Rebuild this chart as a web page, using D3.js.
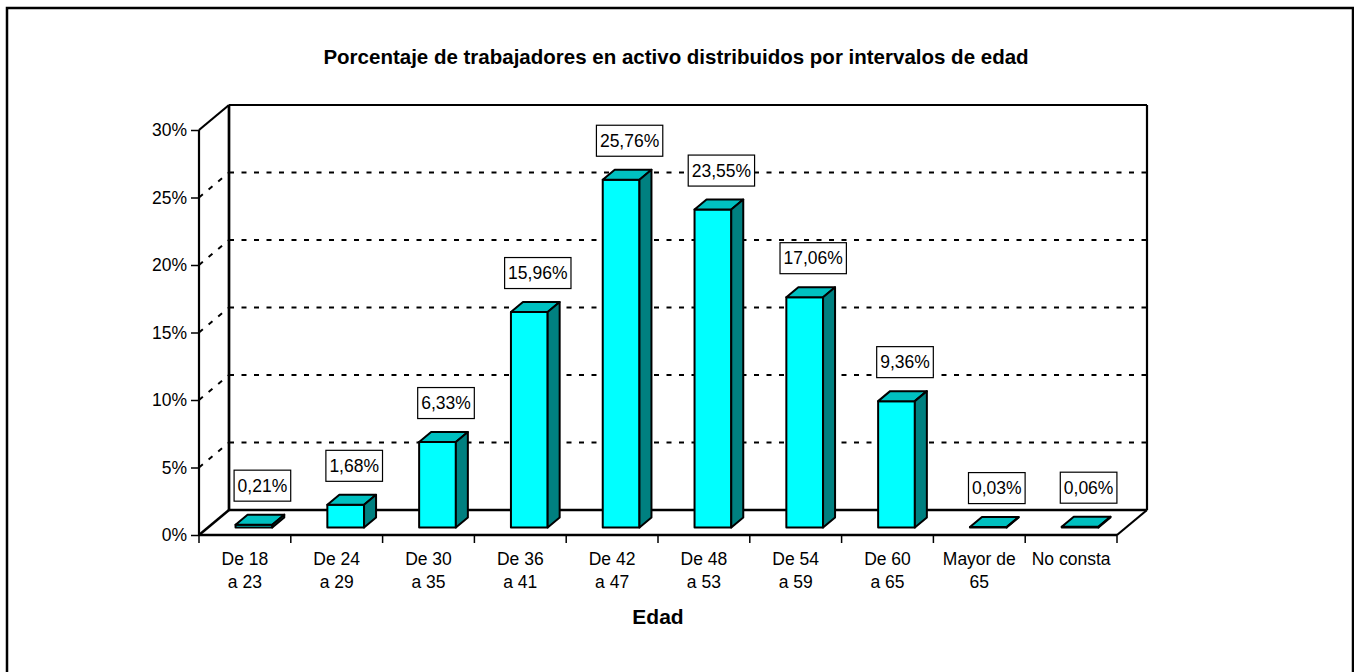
<!DOCTYPE html>
<html>
<head>
<meta charset="utf-8">
<script src="https://cdn.jsdelivr.net/npm/d3@7"></script>
<style>
  html, body { margin: 0; padding: 0; background: #fff; }
  svg { display: block; font-family: "Liberation Sans", Arial, sans-serif; }
</style>
</head>
<body>
<svg id="chart" width="1354" height="672"></svg>
<script>
// ---- data ----
const categories = ["De 18\na 23", "De 24\na 29", "De 30\na 35", "De 36\na 41", "De 42\na 47",
                    "De 48\na 53", "De 54\na 59", "De 60\na 65", "Mayor de\n65", "No consta"];
const values = [0.21, 1.68, 6.33, 15.96, 25.76, 23.55, 17.06, 9.36, 0.03, 0.06];
const valueLabels = ["0,21%", "1,68%", "6,33%", "15,96%", "25,76%", "23,55%", "17,06%", "9,36%", "0,03%", "0,06%"];
const yTicks = [0, 5, 10, 15, 20, 25, 30];
const title = "Porcentaje de trabajadores en activo distribuidos por intervalos de edad";
const xTitle = "Edad";

// ---- layout ----
const svg = d3.select("#chart");
const X0 = 199, X1 = 1117, Y0 = 535, Y1 = 130;
const DX = 30, DY = 25;           // 3D depth offset
const x = d3.scaleBand().domain(categories).range([X0, X1]).padding(0);
const y = d3.scaleLinear().domain([0, 30]).range([Y0, Y1]);

// outer frame
svg.append("rect").attr("x", 7).attr("y", 8).attr("width", 1346).attr("height", 700)
  .attr("fill", "none").attr("stroke", "#000").attr("stroke-width", 2.5);

// title
svg.append("text").attr("x", 676).attr("y", 64).attr("text-anchor", "middle")
  .attr("font-size", 20.5).attr("font-weight", "bold").text(title);

// gridlines: back wall + left side wall
const gridVals = yTicks.filter(v => v > 0 && v < 30);
svg.append("g").selectAll("line.gb").data(gridVals).join("line")
  .attr("x1", X0 + DX).attr("x2", X1 + DX)
  .attr("y1", d => y(d) - DY).attr("y2", d => y(d) - DY)
  .attr("stroke", "#000").attr("stroke-width", 2).attr("stroke-dasharray", "5,7.5");
svg.append("g").selectAll("line.gs").data(gridVals).join("line")
  .attr("x1", X0).attr("x2", X0 + DX)
  .attr("y1", d => y(d)).attr("y2", d => y(d) - DY)
  .attr("stroke", "#000").attr("stroke-width", 2).attr("stroke-dasharray", "5,7.5");

// walls / floor outlines
const frame = svg.append("g").attr("fill", "none").attr("stroke", "#000");
// back wall left vertical
frame.append("line").attr("x1", X0 + DX).attr("x2", X0 + DX).attr("y1", y(30) - DY).attr("y2", y(0) - DY).attr("stroke-width", 2.7);
// back wall right vertical
frame.append("line").attr("x1", X1 + DX).attr("x2", X1 + DX).attr("y1", y(30) - DY).attr("y2", y(0) - DY).attr("stroke-width", 2.2);
// back wall top
frame.append("line").attr("x1", X0 + DX).attr("x2", X1 + DX).attr("y1", y(30) - DY).attr("y2", y(30) - DY).attr("stroke-width", 2.2);
// back floor edge
frame.append("line").attr("x1", X0 + DX).attr("x2", X1 + DX).attr("y1", y(0) - DY).attr("y2", y(0) - DY).attr("stroke-width", 2.5);
// side wall top diagonal
frame.append("line").attr("x1", X0).attr("x2", X0 + DX).attr("y1", y(30)).attr("y2", y(30) - DY).attr("stroke-width", 2.2);
// floor left diagonal
frame.append("line").attr("x1", X0).attr("x2", X0 + DX).attr("y1", y(0)).attr("y2", y(0) - DY).attr("stroke-width", 2.5);
// floor right diagonal
frame.append("line").attr("x1", X1).attr("x2", X1 + DX).attr("y1", y(0)).attr("y2", y(0) - DY).attr("stroke-width", 2.2);

// bars
const bw = x.bandwidth() / 2.5;
const f0 = 0.3;               // front face depth fraction
const bdx = DX * 0.4, bdy = DY * 0.4;
const bars = svg.append("g").selectAll("g").data(values.map((v, i) => ({ v, c: categories[i] }))).join("g");
bars.each(function (d) {
  const g = d3.select(this);
  const cx = x(d.c) + x.bandwidth() / 2 + DX * f0;
  const xl = cx - bw / 2, xr = cx + bw / 2;
  const yt = y(d.v) - DY * f0, yb = y(0) - DY * f0;
  g.append("rect").attr("x", xl).attr("y", yt).attr("width", bw).attr("height", Math.max(yb - yt, 0.5))
    .attr("fill", "#00FFFF").attr("stroke", "#000").attr("stroke-width", 2).attr("stroke-linejoin", "round");
  g.append("path").attr("d", `M${xl},${yt}L${xl + bdx},${yt - bdy}L${xr + bdx},${yt - bdy}L${xr},${yt}Z`)
    .attr("fill", "#00C0C0").attr("stroke", "#000").attr("stroke-width", 2).attr("stroke-linejoin", "round");
  g.append("path").attr("d", `M${xr},${yt}L${xr + bdx},${yt - bdy}L${xr + bdx},${yb - bdy}L${xr},${yb}Z`)
    .attr("fill", "#008080").attr("stroke", "#000").attr("stroke-width", 2).attr("stroke-linejoin", "round");
});

// front axes
svg.append("line").attr("x1", X0).attr("x2", X0).attr("y1", y(30)).attr("y2", y(0))
  .attr("stroke", "#000").attr("stroke-width", 2.2);
svg.append("line").attr("x1", X0).attr("x2", X1).attr("y1", y(0)).attr("y2", y(0))
  .attr("stroke", "#000").attr("stroke-width", 2.5);

// y axis
const yAxis = svg.append("g").attr("transform", `translate(${X0},0)`)
  .call(d3.axisLeft(y).tickValues(yTicks).tickFormat(d => d + "%").tickSize(8).tickPadding(4));
yAxis.select(".domain").remove();
yAxis.selectAll(".tick line").attr("stroke", "#000").attr("stroke-width", 1.5);
yAxis.selectAll(".tick text").attr("font-size", 17.5).attr("font-family", "Liberation Sans, Arial, sans-serif").attr("fill", "#000");

// x axis: tick marks at band boundaries
const bounds = categories.map(c => x(c)).concat([X1]);
svg.append("g").selectAll("line").data(bounds).join("line")
  .attr("x1", d => d).attr("x2", d => d).attr("y1", y(0)).attr("y2", y(0) + 8)
  .attr("stroke", "#000").attr("stroke-width", 1.5);
const xl = svg.append("g").selectAll("text").data(categories).join("text")
  .attr("x", d => x(d) + x.bandwidth() / 2).attr("y", 565)
  .attr("text-anchor", "middle").attr("font-size", 17.5);
xl.each(function (d) {
  const t = d3.select(this);
  d.split("\n").forEach((line, i) => {
    t.append("tspan").attr("x", x(d) + x.bandwidth() / 2).attr("dy", i === 0 ? 0 : 23).text(line);
  });
});

// x title
svg.append("text").attr("x", (X0 + X1) / 2).attr("y", 624).attr("text-anchor", "middle")
  .attr("font-size", 21).attr("font-weight", "bold").text(xTitle);

// data labels
const lab = svg.append("g").selectAll("g").data(values.map((v, i) => ({ v, c: categories[i], t: valueLabels[i] }))).join("g");
lab.each(function (d) {
  const g = d3.select(this);
  const cx = x(d.c) + x.bandwidth() / 2 + DX * 0.5 + 2.5;
  const cy = y(d.v) - DY * 0.5 - 34;
  const rect = g.append("rect").attr("fill", "#fff").attr("stroke", "#000").attr("stroke-width", 1.2);
  const txt = g.append("text").attr("x", cx).attr("y", cy).attr("dy", "0.36em").attr("text-anchor", "middle")
    .attr("font-size", 17.5).text(d.t);
  const w = txt.node().getComputedTextLength() + 7;
  rect.attr("x", cx - w / 2).attr("y", cy - 15.5).attr("width", w).attr("height", 31);
});
</script>
</body>
</html>
